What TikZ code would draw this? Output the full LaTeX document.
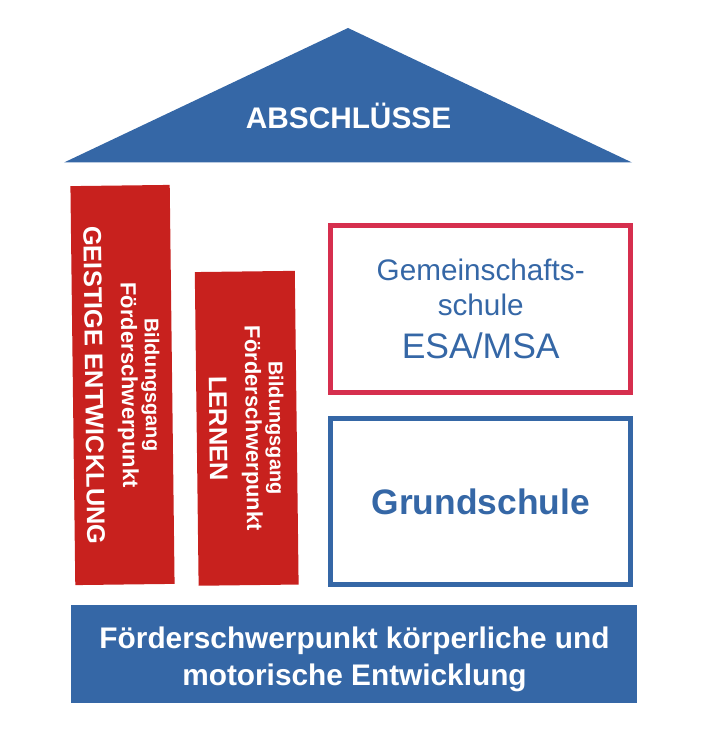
\documentclass[tikz,border=0pt]{standalone}
\usepackage{fontspec}
\setmainfont{Liberation Sans}

\definecolor{hausblau}{RGB}{53,103,166}
\definecolor{saeulerot}{RGB}{200,33,30}
\definecolor{rahmenrot}{RGB}{214,47,78}
\newcommand{\fsz}[2]{\fontsize{#1}{#2}\selectfont}

\begin{document}
\begin{tikzpicture}[x=1pt,y=-1pt,
   saeule/.style={fill=saeulerot, text=white, align=center, inner sep=0pt,
     font=\bfseries\fsz{22}{23.5}},
   schulbox/.style={draw, line width=5pt, inner sep=0pt, text=hausblau,
     align=center, minimum width=300pt},
   weiss/.style={text=white, font=\bfseries\fsz{29.8}{36.7}, align=center, inner sep=0pt}]
   \useasboundingbox (0,0) rectangle (704,730);
   % Dach
   \coordinate (dachl) at (64,162.5);
   \coordinate (first) at (348,28);
   \coordinate (dachr) at (632,162.5);
   \fill[hausblau] (dachl) -- (first) -- (dachr) -- cycle;
   \node[weiss, anchor=base] (abschluesse) at (348.5,128.3) {ABSCHLÜSSE};
   % Saeulen
   \node[saeule, rotate=-89.3, minimum width=399pt, minimum height=99.3pt]
     (ge) at (122.5,385)
     {{\fsz{20}{23.5}Bildungsgang}\\Förderschwerpunkt\\[13pt]{\fsz{25.5}{30}GEISTIGE ENTWICKLUNG}};
   \node[saeule, rotate=-89.3, minimum width=313.7pt, minimum height=100pt]
     (lernen) at (246.7,428.3)
     {{\fsz{20}{23.5}Bildungsgang}\\Förderschwerpunkt\\[13pt]{\fsz{25.5}{30}LERNEN}};
   % Schulen
   \node[schulbox, draw=rahmenrot, minimum height=166.7pt, font=\fsz{29.7}{35}]
     (gms) at (480.7,309.2)
     {Gemeinschafts-\\schule\\[8.3pt]{\fsz{35.5}{43}ESA/MSA}};
   \node[schulbox, draw=hausblau, minimum height=166.3pt, font=\bfseries\fsz{35.4}{42}]
     (gs) at (480.7,501.6) {Grundschule};
   % Fundament
   \node[fill=hausblau, minimum width=566pt, minimum height=98.5pt, inner sep=0pt]
     (basis) at (354,654.2) {};
   \node[weiss] (basistext) at (354.5,659.6)
     {Förderschwerpunkt körperliche und\\motorische Entwicklung};
\end{tikzpicture}
\end{document}
